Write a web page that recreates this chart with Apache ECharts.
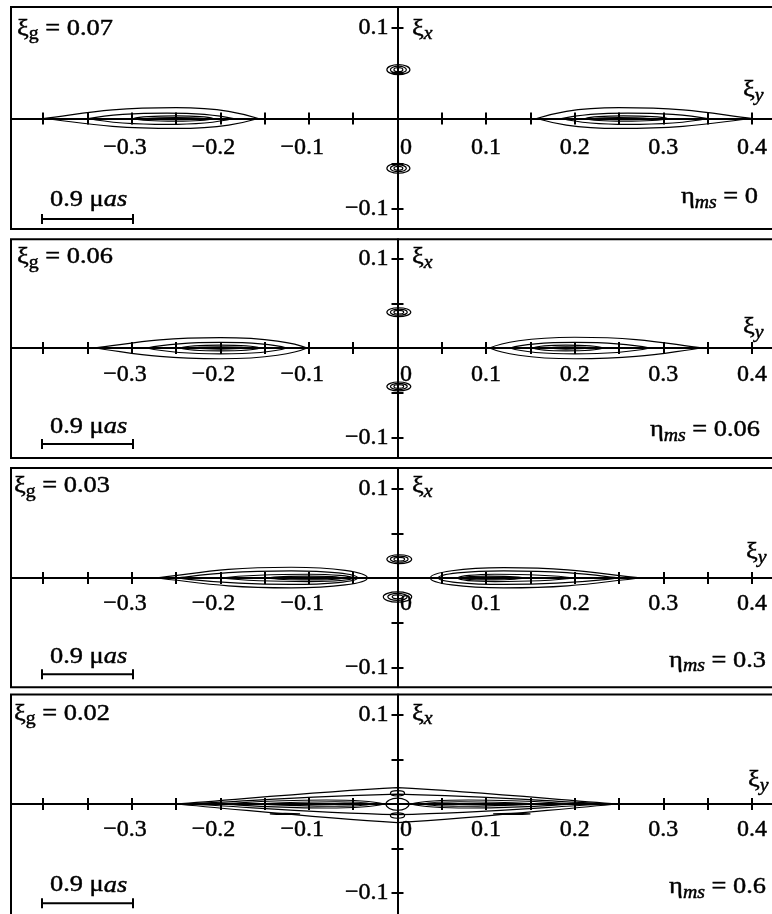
<!DOCTYPE html>
<html>
<head>
<meta charset="utf-8">
<script src="https://cdn.jsdelivr.net/npm/echarts@6/dist/echarts.min.js"></script>
<style>
html,body{margin:0;padding:0;background:#fff;}
#chart{width:772px;height:914px;}
</style>
</head>
<body>
<div id="chart"></div>
<script>
// ---------------- data ----------------
const panelXiG = ['0.07', '0.06', '0.03', '0.02'];
const panelEtaMs = ['0', '0.06', '0.3', '0.6'];
const xTickValues = [-0.4, -0.35, -0.3, -0.25, -0.2, -0.15, -0.1, -0.05, 0, 0.05, 0.1, 0.15, 0.2, 0.25, 0.3, 0.35, 0.4];
const xLabelValues = [-0.3, -0.2, -0.1, 0, 0.1, 0.2, 0.3, 0.4];
const yTickValues = [-0.1, -0.05, 0.05, 0.1];
const yLabelValues = [-0.1, 0.1];
const scaleBarText = '0.9 μ';
const scaleBarUnit = 'as';

// contour curves: [xLeft, xRight, xPeak, yCenter, halfHeightTop, halfHeightBottom, roundLeft, roundRight, flatPeak]
const contoursP1 = [
  [-0.400, -0.157, -0.250, 0, 0.0120, 0.0110, 0.15, 0.45, 1],
  [-0.349, -0.185, -0.260, 0, 0.0060, 0.0066, 0.5, 0.5, 1],
  [-0.298, -0.208, -0.250, 0, 0.0030, 0.0030, 0.7, 0.7, 1],
  [-0.283, -0.219, -0.250, 0, 0.0010, 0.0010, 0.5, 0.5, 1],
  [0.157, 0.401, 0.250, 0, 0.0120, 0.0110, 0.45, 0.15, 1],
  [0.185, 0.350, 0.260, 0, 0.0060, 0.0066, 0.5, 0.5, 1],
  [0.212, 0.305, 0.255, 0, 0.0030, 0.0030, 0.7, 0.7, 1],
  [0.222, 0.285, 0.250, 0, 0.0010, 0.0010, 0.5, 0.5, 1],
  [-0.012, 0.014, 0.001, 0.054, 0.0055, 0.0055, 1, 1, 1],
  [-0.008, 0.010, 0.001, 0.054, 0.0038, 0.0038, 1, 1, 1],
  [-0.004, 0.006, 0.001, 0.054, 0.0022, 0.0022, 1, 1, 1],
  [-0.012, 0.014, 0.001, -0.055, 0.0055, 0.0055, 1, 1, 1],
  [-0.008, 0.010, 0.001, -0.055, 0.0038, 0.0038, 1, 1, 1],
  [-0.004, 0.006, 0.001, -0.055, 0.0022, 0.0022, 1, 1, 1]
];
const contoursP2 = [
  [-0.343, -0.102, -0.200, 0, 0.0115, 0.0120, 0.15, 0.6, 1],
  [-0.283, -0.125, -0.200, 0, 0.0063, 0.0066, 0.5, 0.6, 1],
  [-0.245, -0.155, -0.200, 0, 0.0032, 0.0032, 0.7, 0.7, 1],
  [-0.230, -0.170, -0.200, 0, 0.0012, 0.0012, 0.5, 0.5, 1],
  [0.104, 0.345, 0.200, 0, 0.0120, 0.0120, 0.6, 0.15, 1],
  [0.127, 0.285, 0.200, 0, 0.0063, 0.0066, 0.6, 0.5, 1],
  [0.153, 0.232, 0.190, 0, 0.0032, 0.0032, 0.7, 0.7, 1],
  [0.172, 0.217, 0.190, 0, 0.0012, 0.0012, 0.5, 0.5, 1],
  [-0.012, 0.015, 0.001, 0.040, 0.0050, 0.0050, 1, 1, 1],
  [-0.008, 0.011, 0.001, 0.040, 0.0034, 0.0034, 1, 1, 1],
  [-0.004, 0.007, 0.001, 0.040, 0.0020, 0.0020, 1, 1, 1],
  [-0.012, 0.015, 0.001, -0.043, 0.0050, 0.0050, 1, 1, 1],
  [-0.008, 0.011, 0.001, -0.043, 0.0034, 0.0034, 1, 1, 1],
  [-0.004, 0.007, 0.001, -0.043, 0.0020, 0.0020, 1, 1, 1]
];
const contoursP3 = [
  [-0.274, -0.034, -0.120, 0, 0.0120, 0.0110, 0.1, 1, 1],
  [-0.250, -0.045, -0.120, 0, 0.0080, 0.0072, 0.3, 1, 1],
  [-0.200, -0.050, -0.100, 0, 0.0042, 0.0040, 0.5, 0.9, 1],
  [-0.147, -0.062, -0.100, 0, 0.0022, 0.0022, 0.6, 0.8, 1],
  [-0.133, -0.068, -0.100, 0, 0.0008, 0.0008, 0.5, 0.5, 1],
  [0.037, 0.276, 0.120, 0, 0.0115, 0.0110, 1, 0.1, 1],
  [0.046, 0.251, 0.120, 0, 0.0080, 0.0072, 1, 0.3, 1],
  [0.068, 0.200, 0.110, 0, 0.0042, 0.0040, 0.9, 0.5, 1],
  [0.073, 0.144, 0.100, 0, 0.0022, 0.0022, 0.8, 0.6, 1],
  [0.080, 0.135, 0.100, 0, 0.0008, 0.0008, 0.5, 0.5, 1],
  [-0.012, 0.016, 0.002, 0.021, 0.0050, 0.0050, 1, 1, 1],
  [-0.008, 0.012, 0.002, 0.021, 0.0034, 0.0034, 1, 1, 1],
  [-0.004, 0.008, 0.002, 0.021, 0.0020, 0.0020, 1, 1, 1],
  [-0.016, 0.016, 0.000, -0.021, 0.0055, 0.0060, 1, 1, 1],
  [-0.011, 0.011, 0.000, -0.021, 0.0038, 0.0040, 1, 1, 1],
  [-0.006, 0.006, 0.000, -0.021, 0.0022, 0.0022, 1, 1, 1]
];
const contoursP4 = [
  [-0.251, 0.249, 0.000, 0, 0.0185, 0.0210, 0, 0, 0.2],
  [-0.237, 0.237, 0.000, 0, 0.0110, 0.0120, 0, 0, 0.4],
  [-0.200, -0.015, -0.080, 0, 0.0045, 0.0045, 0.2, 0.6, 1],
  [0.015, 0.200, 0.080, 0, 0.0045, 0.0045, 0.6, 0.2, 1],
  [-0.160, -0.028, -0.070, 0, 0.0025, 0.0025, 0.3, 0.6, 1],
  [0.028, 0.160, 0.070, 0, 0.0025, 0.0025, 0.6, 0.3, 1],
  [-0.080, -0.042, -0.060, 0, 0.0008, 0.0008, 0.5, 0.5, 1],
  [0.037, 0.078, 0.057, 0, 0.0008, 0.0008, 0.5, 0.5, 1],
  [-0.144, -0.110, -0.127, -0.011, 0.0006, 0.0006, 0.5, 0.5, 1],
  [0.108, 0.150, 0.129, -0.011, 0.0006, 0.0006, 0.5, 0.5, 1],
  [-0.013, 0.013, 0.000, 0, 0.0065, 0.0070, 1, 1, 1],
  [-0.008, 0.008, 0.000, 0.012, 0.0030, 0.0030, 1, 1, 1],
  [-0.008, 0.008, 0.000, -0.013, 0.0030, 0.0030, 1, 1, 1]
];
const panelContours = [contoursP1, contoursP2, contoursP3, contoursP4];

// ---------------- layout (pixels) ----------------
const FONT = 'Liberation Serif';
const TEXT_WEIGHT = 0.45;
const GRID_LEFT = 11, GRID_RIGHT_PX = 792;
const X_ZERO_PX = 397.5, X_PX_PER_UNIT = 886;
const panels = [
  {top: 7,     bottom: 229,   zero: 118.5, pxPerUnit: 905, margin: 17,   xiGLeft: 17, xiGBase: 36.5,  barY: 219,   barBase: 208,   etaBase: 205,   etaRight: 758, xiYBase: 98,  xiYLeft: 743},
  {top: 239.3, bottom: 458,   zero: 348,   pxPerUnit: 895, margin: 15,   xiGLeft: 17, xiGBase: 265,   barY: 444,   barBase: 435,   etaBase: 438.3, etaRight: 760, xiYBase: 335, xiYLeft: 743},
  {top: 468,   bottom: 687.3, zero: 578,   pxPerUnit: 895, margin: 13.5, xiGLeft: 14, xiGBase: 494.3, barY: 674.3, barBase: 665,   etaBase: 668.6, etaRight: 766, xiYBase: 560, xiYLeft: 746},
  {top: 694.5, bottom: 925,   zero: 804,   pxPerUnit: 890, margin: 14,   xiGLeft: 14, xiGBase: 721.7, barY: 903.3, barBase: 893.3, etaBase: 895,   etaRight: 766, xiYBase: 788, xiYLeft: 748}
];
const xMin = (GRID_LEFT - X_ZERO_PX) / X_PX_PER_UNIT;
const xMax = (GRID_RIGHT_PX - X_ZERO_PX) / X_PX_PER_UNIT;

function numStr(v) { return String(+Math.abs(v).toFixed(2)); }

function renderContour(params, api) {
  const x0 = api.value(0), x1 = api.value(1), xp = api.value(2), yc = api.value(3);
  const ht = api.value(4), hb = api.value(5), r0 = api.value(6), r1 = api.value(7), f = api.value(8);
  const P = (x, y) => { const p = api.coord([x, y]); return p[0].toFixed(2) + ' ' + p[1].toFixed(2); };
  const aL = 0.33 * (1 - r0), bL = 0.33 + 0.222 * r0;
  const aR = 0.33 * (1 - r1), bR = 0.33 + 0.222 * r1;
  const cF = 0.33 + 0.222 * f, dF = 0.67 + 0.33 * f;
  const dl = xp - x0, dr = x1 - xp;
  let d = 'M' + P(x0, yc);
  d += ' C' + P(x0 + aL * dl, yc + bL * ht) + ' ' + P(xp - cF * dl, yc + dF * ht) + ' ' + P(xp, yc + ht);
  d += ' C' + P(xp + cF * dr, yc + dF * ht) + ' ' + P(x1 - aR * dr, yc + bR * ht) + ' ' + P(x1, yc);
  d += ' C' + P(x1 - aR * dr, yc - bR * hb) + ' ' + P(xp + cF * dr, yc - dF * hb) + ' ' + P(xp, yc - hb);
  d += ' C' + P(xp - cF * dl, yc - dF * hb) + ' ' + P(x0 + aL * dl, yc - bL * hb) + ' ' + P(x0, yc) + ' Z';
  return {type: 'path', shape: {pathData: d}, style: {fill: 'none', stroke: '#000', lineWidth: 1.2}};
}

const tokenBase = {fontFamily: FONT, fill: '#000', stroke: '#000', lineWidth: TEXT_WEIGHT};
const RICH = {
  m:  Object.assign({}, tokenBase, {fontSize: 24, lineHeight: 32}),
  i:  Object.assign({}, tokenBase, {fontSize: 24, lineHeight: 32, fontStyle: 'italic'}),
  s:  Object.assign({}, tokenBase, {fontSize: 18, height: 20, lineHeight: 20, verticalAlign: 'bottom'}),
  si: Object.assign({}, tokenBase, {fontSize: 18, height: 20, lineHeight: 20, verticalAlign: 'bottom', fontStyle: 'italic'})
};
function label(x, baseline, tokens, align) {
  return {
    type: 'text', x: x, y: baseline - 24.1, scaleX: 1.1, z: 100,
    style: {
      text: tokens.map(t => '{' + t[0] + '|' + t[1] + '}').join(''),
      rich: RICH, align: align || 'left', verticalAlign: 'top', fill: '#000',
      font: '24px "' + FONT + '"'
    }
  };
}
function seg(x1, y1, x2, y2) {
  return {type: 'line', z: 100, shape: {x1: x1, y1: y1, x2: x2, y2: y2}, style: {stroke: '#000', lineWidth: 2}};
}

const grids = [], xAxes = [], yAxes = [], series = [], graphics = [];
const tickStyle = {color: '#000', width: 2};
const axisText = {color: '#000', fontFamily: FONT, fontSize: 24, textBorderColor: '#000', textBorderWidth: TEXT_WEIGHT};
panels.forEach((p, i) => {
  grids.push({
    left: GRID_LEFT, top: p.top, width: GRID_RIGHT_PX - GRID_LEFT, height: p.bottom - p.top,
    show: true, borderColor: '#000', borderWidth: 2, backgroundColor: '#fff',
    containLabel: false, outerBoundsMode: 'none'
  });
  const yMax = (p.zero - p.top) / p.pxPerUnit;
  const yMin = -(p.bottom - p.zero) / p.pxPerUnit;
  // axes are moved onto the zero lines through their offsets (so labels follow the lines)
  xAxes.push({
    gridIndex: i, type: 'value', position: 'bottom', offset: p.zero - p.bottom, min: xMin, max: xMax,
    axisLine: {show: true, onZero: false, lineStyle: {color: '#000', width: 2}},
    axisTick: {show: true, customValues: xTickValues, length: 6, lineStyle: tickStyle},
    axisLabel: Object.assign({
      show: true, customValues: xLabelValues, margin: p.margin, hideOverlap: false,
      formatter: v => {
        if (Math.abs(v) < 1e-9) return '{sp| }{n|0}';
        if (v < 0) return '{n|−' + numStr(v) + '}{sm| }';
        return '{n|' + numStr(v) + '}';
      },
      rich: {
        n: Object.assign({}, axisText),
        sp: {width: 17, fontSize: 24},
        sm: {width: 13.5, fontSize: 24}
      }
    }, axisText),
    splitLine: {show: false}
  });
  xAxes.push({
    gridIndex: i, type: 'value', position: 'top', offset: p.top - p.zero, min: xMin, max: xMax,
    axisLine: {show: false, onZero: false},
    axisTick: {show: true, customValues: xTickValues, length: 6, lineStyle: tickStyle},
    axisLabel: {show: false}, splitLine: {show: false}
  });
  yAxes.push({
    gridIndex: i, type: 'value', position: 'left', offset: GRID_LEFT - X_ZERO_PX, min: yMin, max: yMax,
    axisLine: {show: true, onZero: false, lineStyle: {color: '#000', width: 2}},
    axisTick: {show: true, customValues: yTickValues, length: 6, lineStyle: tickStyle},
    axisLabel: Object.assign({
      show: true, customValues: yLabelValues, margin: 9, hideOverlap: false,
      formatter: v => (v < 0 ? '−' : '') + numStr(v)
    }, axisText),
    splitLine: {show: false}
  });
  yAxes.push({
    gridIndex: i, type: 'value', position: 'right', offset: X_ZERO_PX - GRID_RIGHT_PX, min: yMin, max: yMax,
    axisLine: {show: false, onZero: false},
    axisTick: {show: true, customValues: yTickValues, length: 6, lineStyle: tickStyle},
    axisLabel: {show: false}, splitLine: {show: false}
  });
  series.push({
    type: 'custom', coordinateSystem: 'cartesian2d',
    xAxisIndex: 2 * i, yAxisIndex: 2 * i,
    renderItem: renderContour, data: panelContours[i], silent: true, z: 10
  });
  // annotations
  graphics.push(label(p.xiGLeft, p.xiGBase, [['m', 'ξ'], ['s', 'g'], ['m', ' = ' + panelXiG[i]]], 'left'));
  graphics.push(label(412, p.xiGBase, [['m', 'ξ'], ['si', 'x']], 'left'));
  graphics.push(label(p.xiYLeft, p.xiYBase, [['m', 'ξ'], ['si', 'y']], 'left'));
  graphics.push(label(p.etaRight, p.etaBase, [['m', 'η'], ['si', 'ms'], ['m', ' = ' + panelEtaMs[i]]], 'right'));
  graphics.push(label(50, p.barBase, [['m', scaleBarText], ['i', scaleBarUnit]], 'left'));
  graphics.push(seg(42, p.barY, 133, p.barY));
  graphics.push(seg(42, p.barY - 5, 42, p.barY + 5));
  graphics.push(seg(133, p.barY - 5, 133, p.barY + 5));
});

const chart = echarts.init(document.getElementById('chart'), null, {renderer: 'canvas'});
chart.setOption({
  backgroundColor: '#fff',
  animation: false,
  grid: grids,
  xAxis: xAxes,
  yAxis: yAxes,
  series: series,
  graphic: graphics
});
</script>
</body>
</html>
